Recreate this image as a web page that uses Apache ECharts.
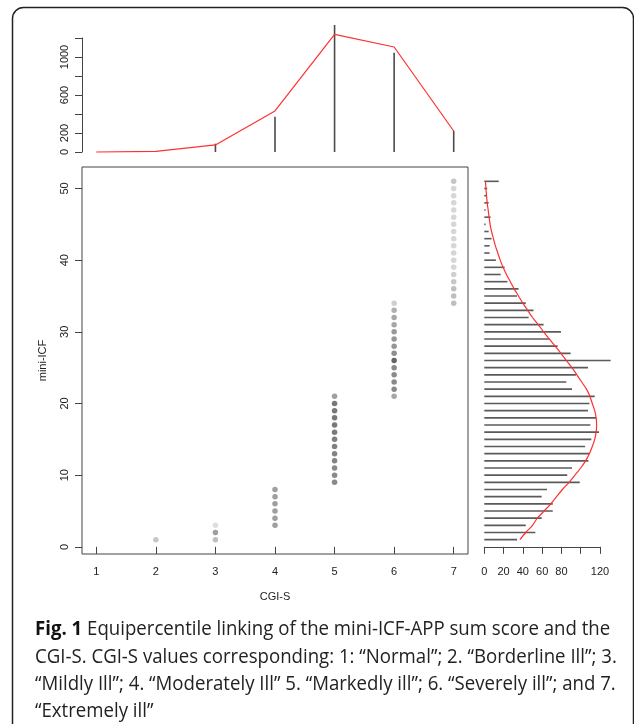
<!DOCTYPE html>
<html>
<head>
<meta charset="utf-8">
<script src="https://cdn.jsdelivr.net/npm/echarts@6/dist/echarts.min.js"></script>
<style>
html,body{margin:0;padding:0;background:#fff;}
#chart{width:634px;height:724px;}
</style>
</head>
<body>
<div id="chart"></div>
<script>
// ---- data ----
const cgiLevels = [1, 2, 3, 4, 5, 6, 7];
const cgiCounts = [0, 4, 87, 372, 1337, 1045, 224];      // vertical spikes (top panel)
const cgiDensity = [0, 7, 74, 432, 1239, 1105, 221];     // red line (top panel)

const icfValues = [];
for (let v = 1; v <= 51; v++) icfValues.push(v);
const icfCounts = [34, 53, 43, 59.5, 71, 71, 59.5, 65, 99, 86, 91, 108, 109, 104.5, 111, 119, 110, 116, 107.5, 109,
  114.5, 91, 85, 95, 107.5, 131, 89.5, 76, 67, 79.5, 61.5, 46, 51, 43, 34, 35.5, 24, 17, 21, 12,
  5.5, 5.5, 7.5, 4.5, 1.4, 6.5, 1.4, 4.5, 2, 3, 15];
const icfDensity = [37, 43, 50, 55, 62, 69, 75, 81, 88, 94, 100, 105, 109, 112, 114.5, 116, 116.5, 116, 114.5, 112,
  109.5, 106, 101, 96, 91, 85, 79.5, 73.5, 67.5, 61.5, 56, 50, 45, 40, 35.5, 31, 27, 23, 19.5, 16.5,
  14, 11.5, 9.5, 7.5, 6, 5, 4, 3, 2.3, 1.7, 1.2];

// linking points: [CGI-S, mini-ICF, relative frequency (0-10)]
const linkCgi = [2, 3, 3, 3, 4, 4, 4, 4, 4, 4,
  5, 5, 5, 5, 5, 5, 5, 5, 5, 5, 5, 5, 5,
  6, 6, 6, 6, 6, 6, 6, 6, 6, 6, 6, 6, 6, 6,
  7, 7, 7, 7, 7, 7, 7, 7, 7, 7, 7, 7, 7, 7, 7, 7, 7, 7];
const linkIcf = [1, 1, 2, 3, 3, 4, 5, 6, 7, 8,
  9, 10, 11, 12, 13, 14, 15, 16, 17, 18, 19, 20, 21,
  21, 22, 23, 24, 25, 26, 27, 28, 29, 30, 31, 32, 33, 34,
  34, 35, 36, 37, 38, 39, 40, 41, 42, 43, 44, 45, 46, 47, 48, 49, 50, 51];
const linkFreq = [3, 3.5, 5.5, 1.5, 5.5, 5.5, 5.5, 5.5, 5.5, 5.5,
  6.8, 6.8, 6.8, 7.2, 7.2, 7.5, 7.5, 7.8, 8, 8, 8, 8, 5.5,
  5, 6.8, 6.8, 6.8, 6.8, 9.2, 6.5, 6, 6, 5.8, 5, 5, 4.5, 2.5,
  3.5, 3.5, 3.5, 3, 2.5, 2, 2, 2, 2, 2, 2, 2, 2, 2, 2, 2, 2, 3.2];

const topTicks = [0, 200, 400, 600, 800, 1000, 1200];
const topTickLabels = [0, 200, 600, 1000];
const icfTicks = [0, 10, 20, 30, 40, 50];
const histTicks = [0, 20, 40, 60, 80, 100, 120];
const histTickLabels = [0, 20, 40, 60, 80, 120];

const captionLines = [
  '{b|Fig. 1} Equipercentile linking of the mini-ICF-APP sum score and the',
  'CGI-S. CGI-S values corresponding: 1: \u201cNormal\u201d; 2. \u201cBorderline Ill\u201d; 3.',
  '\u201cMildly Ill\u201d; 4. \u201cModerately Ill\u201d 5. \u201cMarkedly ill\u201d; 6. \u201cSeverely ill\u201d; and 7.',
  '\u201cExtremely ill\u201d'
];

// ---- chart ----
const chart = echarts.init(document.getElementById('chart'), null, {renderer: 'canvas'});
const FONT = "'Liberation Sans', Arial, Helvetica, sans-serif";
const CAPFONT = "'Open Sans', 'Noto Sans', sans-serif";
const axisCol = '#444';
const plain = v => String(v);
const lbl = {color: '#222', fontFamily: FONT, fontSize: 11, formatter: plain};

const captionGraphics = captionLines.map((t, i) => ({
  type: 'text',
  left: 35,
  top: [619, 647, 674, 701][i],
  scaleX: 0.955,
  style: {
    text: t,
    fontFamily: CAPFONT,
    fontSize: 19.5,
    fill: '#222',
    rich: {b: {fontWeight: 'bold', fontSize: 19.5, fontFamily: CAPFONT, fill: '#111'}}
  }
}));

const option = {
  animation: false,
  backgroundColor: '#fff',
  grid: [
    {left: 82, top: 38, width: 386, height: 114},
    {left: 82, top: 167, width: 386, height: 387, show: true, borderColor: axisCol, borderWidth: 1, backgroundColor: 'transparent'},
    {left: 484.3, top: 167, width: 115.7, height: 387}
  ],
  xAxis: [
    {gridIndex: 0, type: 'value', min: 0.76, max: 7.24, show: false},
    {gridIndex: 1, type: 'value', min: 0.76, max: 7.24,
      axisLine: {show: false}, splitLine: {show: false},
      axisTick: {show: true, length: 7, lineStyle: {color: axisCol}, customValues: cgiLevels},
      axisLabel: Object.assign({margin: 12, customValues: cgiLevels}, lbl),
      name: 'CGI-S', nameLocation: 'middle', nameGap: 37,
      nameTextStyle: {color: '#222', fontFamily: FONT, fontSize: 11}},
    {gridIndex: 2, type: 'value', min: 0, max: 120,
      axisLine: {show: true, lineStyle: {color: axisCol}}, splitLine: {show: false},
      axisTick: {show: true, length: 7, lineStyle: {color: axisCol}, customValues: histTicks},
      axisLabel: Object.assign({margin: 12, customValues: histTickLabels}, lbl)}
  ],
  yAxis: [
    {gridIndex: 0, type: 'value', min: 0, max: 1200,
      axisLine: {show: true, lineStyle: {color: axisCol}}, splitLine: {show: false},
      axisTick: {show: true, length: 7, lineStyle: {color: axisCol}, customValues: topTicks},
      axisLabel: Object.assign({margin: 12, rotate: 90, customValues: topTickLabels}, lbl)},
    {gridIndex: 1, type: 'value', min: -1, max: 53,
      axisLine: {show: false}, splitLine: {show: false},
      axisTick: {show: true, length: 7, lineStyle: {color: axisCol}, customValues: icfTicks},
      axisLabel: Object.assign({margin: 12, rotate: 90, customValues: icfTicks}, lbl),
      name: 'mini-ICF', nameLocation: 'middle', nameGap: 34,
      nameTextStyle: {color: '#222', fontFamily: FONT, fontSize: 11}},
    {gridIndex: 2, type: 'value', min: -1, max: 53, show: false}
  ],
  visualMap: {
    show: false, type: 'continuous', seriesIndex: 2, dimension: 2, min: 0, max: 10,
    inRange: {color: ['#f4f4f4', '#2e2e2e']}
  },
  graphic: [
    {type: 'rect', shape: {x: 12.5, y: 7.5, width: 621, height: 730, r: 11},
      style: {fill: 'none', stroke: '#222', lineWidth: 1.5}, silent: true}
  ].concat(captionGraphics),
  series: [
    {type: 'custom', xAxisIndex: 0, yAxisIndex: 0,
      data: cgiLevels.map((c, i) => [c, cgiCounts[i]]),
      renderItem: function (params, api) {
        const p0 = api.coord([api.value(0), 0]);
        const p1 = api.coord([api.value(0), api.value(1)]);
        return {type: 'line', shape: {x1: p0[0], y1: p0[1], x2: p1[0], y2: p1[1]},
          style: {stroke: '#4a4a4a', lineWidth: 1.6}};
      }},
    {type: 'line', xAxisIndex: 0, yAxisIndex: 0, clip: false, showSymbol: false, symbol: 'none',
      data: cgiLevels.map((c, i) => [c, cgiDensity[i]]),
      lineStyle: {color: '#ff3030', width: 1.2}},
    {type: 'scatter', xAxisIndex: 1, yAxisIndex: 1, symbolSize: 5.5,
      data: linkCgi.map((c, i) => [c, linkIcf[i], linkFreq[i]])},
    {type: 'custom', xAxisIndex: 2, yAxisIndex: 2,
      data: icfValues.map((v, i) => [icfCounts[i], v]),
      renderItem: function (params, api) {
        const p0 = api.coord([0, api.value(1)]);
        const p1 = api.coord([api.value(0), api.value(1)]);
        return {type: 'line', shape: {x1: p0[0], y1: p0[1], x2: p1[0], y2: p1[1]},
          style: {stroke: '#5a5a5a', lineWidth: 1.6}};
      }},
    {type: 'line', xAxisIndex: 2, yAxisIndex: 2, clip: false, showSymbol: false, symbol: 'none', smooth: 0.3,
      data: icfValues.map((v, i) => [icfDensity[i], v]),
      lineStyle: {color: '#ff3030', width: 1.2}}
  ]
};
chart.setOption(option);
</script>
</body>
</html>
